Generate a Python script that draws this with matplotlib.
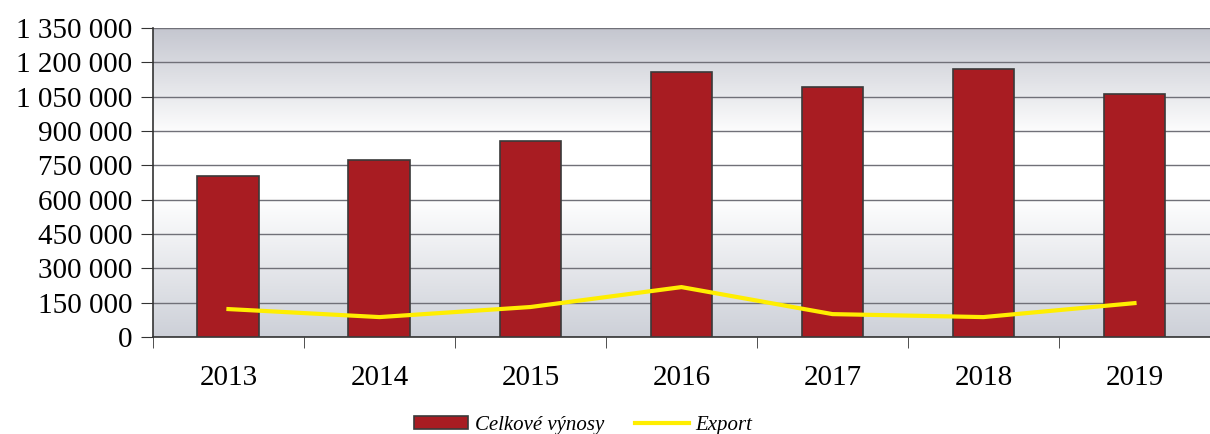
import numpy as np
import matplotlib
matplotlib.use('Agg')
import matplotlib.pyplot as plt
from matplotlib.colors import LinearSegmentedColormap

years = ['2013', '2014', '2015', '2016', '2017', '2018', '2019']
vynosy = [703000, 773000, 856000, 1158000, 1092000, 1171000, 1062000]
export = [122000, 87000, 131000, 218000, 100000, 87000, 148000]
yticks = [0, 150000, 300000, 450000, 600000, 750000, 900000, 1050000, 1200000, 1350000]

plt.rcParams['font.family'] = ['Liberation Serif', 'DejaVu Serif']

fig = plt.figure(figsize=(12.1, 4.34), dpi=100)
ax = fig.add_axes([0.1264, 0.2235, 0.8736, 0.712])

x = np.arange(len(years))

# gradient background (gray top -> white -> light gray bottom)
cmap = LinearSegmentedColormap.from_list('bg', [(0.0, '#cdd0d8'), (0.45, '#ffffff'),
                                                 (0.65, '#ffffff'), (1.0, '#c4c6cf')])
grad = np.linspace(0, 1, 256).reshape(-1, 1)
ax.imshow(grad, cmap=cmap, aspect='auto', extent=[-0.5, len(years) - 0.5, 0, 1350000],
          origin='lower', zorder=0)

bars = ax.bar(x, vynosy, width=0.41, color='#a81c22', edgecolor='#3a3a3a', linewidth=1.2,
              zorder=3, label='Celkové výnosy')
line, = ax.plot(x, export, color='#ffee00', linewidth=3, zorder=4, label='Export')

ax.set_xlim(-0.5, len(years) - 0.5)
ax.set_ylim(0, 1350000)
ax.set_yticks(yticks)
ax.set_yticklabels(['{:,}'.format(v).replace(',', ' ') for v in yticks], fontsize=21)
ax.yaxis.grid(True, color='#707078', linewidth=1)
for l in ax.get_ygridlines():
    l.set_zorder(1)

ax.set_xticks(x)
ax.set_xticklabels(years, fontsize=21)
ax.set_xticks(np.arange(-0.5, len(years), 1), minor=True)
ax.tick_params(axis='x', which='major', length=0, pad=20)
ax.tick_params(axis='x', which='minor', length=8, direction='out', color='#333333')
ax.tick_params(axis='y', length=9, direction='out', color='#333333', pad=6)

for s in ['top', 'right']:
    ax.spines[s].set_visible(False)
ax.spines['left'].set_color('#333333')
ax.spines['bottom'].set_color('#333333')
ax.spines['left'].set_linewidth(1.2)
ax.spines['bottom'].set_linewidth(1.2)

fig.legend([bars, line], ['Celkové výnosy', 'Export'], loc='lower center',
           bbox_to_anchor=(0.482, -0.045), ncol=2, frameon=False,
           prop={'style': 'italic', 'size': 15}, handlelength=2.6, handleheight=0.6,
           columnspacing=1.5, handletextpad=0.3)

fig.savefig('out.png', dpi=100)
